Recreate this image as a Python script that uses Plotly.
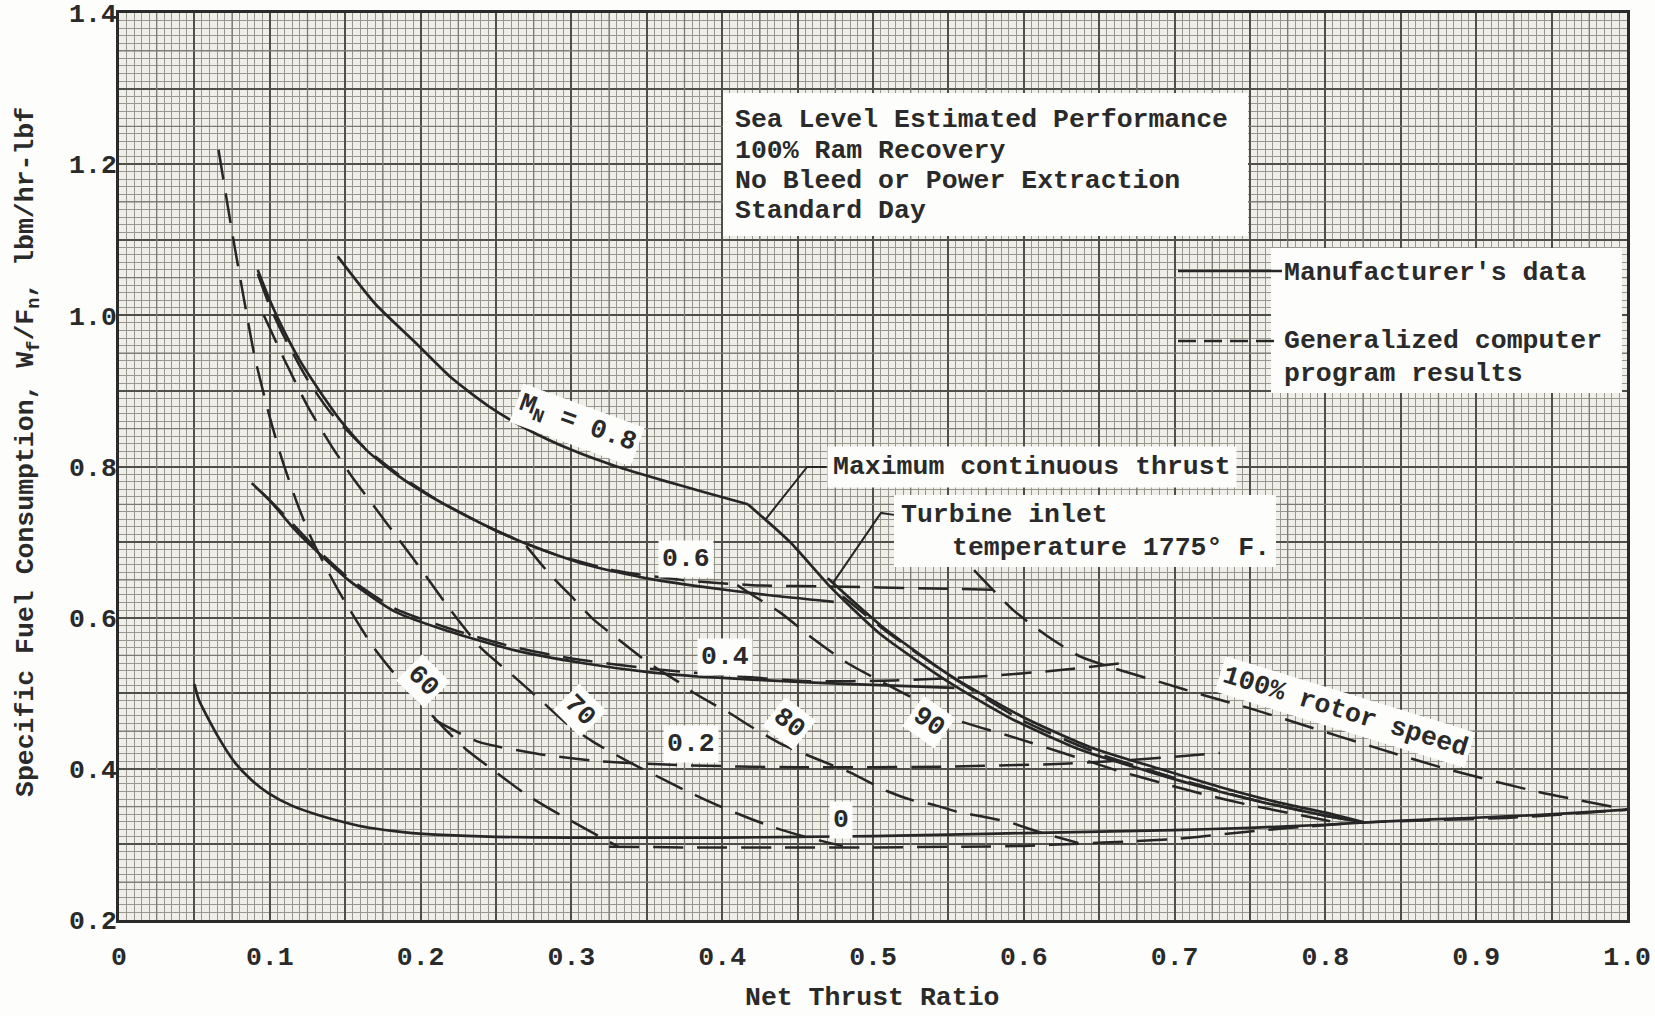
import plotly.graph_objects as go

# ---------------- data ----------------
# Manufacturer's data (solid)
s08_x = [0.145, 0.17, 0.196, 0.22, 0.245, 0.27, 0.30, 0.33, 0.36, 0.39, 0.417]
s08_y = [1.078, 1.015, 0.965, 0.918, 0.88, 0.85, 0.822, 0.80, 0.782, 0.765, 0.750]
s06_x = [0.092, 0.10, 0.108, 0.12, 0.133, 0.148, 0.165, 0.185, 0.207, 0.24, 0.2735, 0.31, 0.35, 0.386, 0.43, 0.474]
s06_y = [1.06, 1.02, 0.985, 0.94, 0.90, 0.858, 0.82, 0.788, 0.76, 0.725, 0.695, 0.67, 0.652, 0.641, 0.63, 0.621]
s04_x = [0.088, 0.10, 0.115, 0.13, 0.152, 0.183, 0.2185, 0.262, 0.307, 0.351, 0.386, 0.42, 0.461, 0.50, 0.554]
s04_y = [0.778, 0.755, 0.72, 0.69, 0.65, 0.608, 0.582, 0.557, 0.54, 0.528, 0.522, 0.518, 0.514, 0.511, 0.507]
s00_x = [0.05, 0.053, 0.065, 0.077, 0.088, 0.099, 0.115, 0.132, 0.15, 0.166, 0.19, 0.21, 0.25, 0.30, 0.35,
         0.40, 0.45, 0.50, 0.55, 0.60, 0.65, 0.70, 0.75, 0.80, 0.825, 0.87, 0.92, 0.96, 1.0]
s00_y = [0.512, 0.491, 0.445, 0.408, 0.385, 0.368, 0.351, 0.339, 0.329, 0.322, 0.316, 0.313, 0.31, 0.309, 0.309,
         0.309, 0.31, 0.311, 0.313, 0.315, 0.317, 0.319, 0.322, 0.326, 0.329, 0.333, 0.337, 0.341, 0.346]
mct_x = [0.417, 0.445, 0.472, 0.505, 0.55, 0.593, 0.638, 0.682, 0.72, 0.76, 0.80, 0.826]
mct_y = [0.750, 0.700, 0.640, 0.578, 0.515, 0.465, 0.425, 0.397, 0.375, 0.355, 0.338, 0.329]
tit_x = [0.470, 0.505, 0.55, 0.60, 0.645, 0.69, 0.73, 0.77, 0.80, 0.826]
tit_y = [0.652, 0.590, 0.525, 0.468, 0.428, 0.400, 0.376, 0.355, 0.342, 0.329]

# Generalized computer program results (dashed)
d06_x = [0.092, 0.10, 0.11, 0.125, 0.14, 0.16, 0.185, 0.21, 0.25, 0.29, 0.33, 0.373, 0.42, 0.48, 0.53, 0.58]
d06_y = [1.055, 1.012, 0.97, 0.915, 0.872, 0.83, 0.79, 0.757, 0.715, 0.683, 0.662, 0.65, 0.643, 0.641, 0.639, 0.637]
d04_x = [0.095, 0.11, 0.13, 0.152, 0.183, 0.22, 0.26, 0.30, 0.35, 0.40, 0.457, 0.514, 0.571, 0.626, 0.666]
d04_y = [0.765, 0.735, 0.693, 0.653, 0.612, 0.585, 0.562, 0.546, 0.533, 0.524, 0.516, 0.517, 0.522, 0.531, 0.54]
d02_x = [0.209, 0.238, 0.28, 0.32, 0.37, 0.45, 0.55, 0.63, 0.68, 0.73]
d02_y = [0.465, 0.436, 0.419, 0.41, 0.405, 0.402, 0.403, 0.407, 0.413, 0.421]
d00_x = [0.325, 0.38, 0.44, 0.50, 0.56, 0.60, 0.636, 0.67, 0.70, 0.73, 0.76, 0.79, 0.825, 0.87, 0.92, 0.96, 1.0]
d00_y = [0.297, 0.296, 0.296, 0.296, 0.297, 0.298, 0.301, 0.304, 0.307, 0.313, 0.319, 0.324, 0.329, 0.332, 0.335, 0.34, 0.346]
dlim_x = [0.48, 0.51, 0.555, 0.60, 0.65, 0.70, 0.75, 0.80, 0.826]
dlim_y = [0.628, 0.580, 0.518, 0.463, 0.420, 0.388, 0.360, 0.338, 0.329]
n60_x = [0.066, 0.075, 0.083, 0.09, 0.10, 0.108, 0.118, 0.128, 0.146, 0.168, 0.185, 0.20, 0.215, 0.23, 0.245,
         0.27, 0.29, 0.31, 0.331]
n60_y = [1.219, 1.11, 1.02, 0.945, 0.865, 0.81, 0.752, 0.703, 0.634, 0.563, 0.52, 0.487, 0.455, 0.426, 0.403,
         0.366, 0.342, 0.32, 0.297]
n70_x = [0.096, 0.11, 0.125, 0.14, 0.155, 0.17, 0.185, 0.20, 0.218, 0.24, 0.262, 0.28, 0.298, 0.315, 0.33,
         0.345, 0.36, 0.375, 0.39, 0.405, 0.42, 0.435, 0.45, 0.465, 0.48]
n70_y = [1.0, 0.94, 0.88, 0.83, 0.785, 0.745, 0.705, 0.665, 0.615, 0.56, 0.522, 0.49, 0.458, 0.435, 0.418,
         0.402, 0.387, 0.372, 0.358, 0.345, 0.333, 0.322, 0.313, 0.305, 0.298]
n80_x = [0.27, 0.285, 0.302, 0.315, 0.33, 0.346, 0.358, 0.371, 0.38, 0.393, 0.404, 0.419, 0.44, 0.464, 0.485,
         0.51, 0.527, 0.541, 0.556, 0.575, 0.591, 0.609, 0.636]
n80_y = [0.695, 0.659, 0.624, 0.597, 0.573, 0.548, 0.531, 0.515, 0.502, 0.487, 0.475, 0.456, 0.432, 0.412, 0.395,
         0.37, 0.358, 0.352, 0.343, 0.336, 0.329, 0.317, 0.302]
n90_x = [0.41, 0.42, 0.439, 0.461, 0.483, 0.505, 0.532, 0.555, 0.593, 0.623, 0.66, 0.69, 0.72, 0.75, 0.78, 0.81]
n90_y = [0.643, 0.63, 0.606, 0.571, 0.540, 0.516, 0.488, 0.465, 0.442, 0.423, 0.399, 0.382, 0.366, 0.352, 0.34, 0.328]
n100_x = [0.567, 0.593, 0.616, 0.638, 0.66, 0.69, 0.72, 0.75, 0.79, 0.83, 0.88, 0.94, 1.0]
n100_y = [0.663, 0.610, 0.575, 0.548, 0.533, 0.515, 0.497, 0.48, 0.455, 0.43, 0.40, 0.37, 0.346]

# curve labels
label_text = ["M<sub>N</sub> = 0.8", "0.6", "0.4", "0.2", "0", "60", "70", "80", "90", "100% rotor speed"]
label_x = [0.304, 0.376, 0.402, 0.379, 0.479, 0.2015, 0.306, 0.444, 0.537, 0.813]
label_y = [0.855, 0.677, 0.548, 0.433, 0.332, 0.516, 0.477, 0.460, 0.462, 0.475]
label_angle = [20, 0, 0, 0, 0, 45, 45, 38, 35, 17]

# leader lines of the limit-line callouts
mct_leader_x = [0.4689, 0.4563, 0.4285]
mct_leader_y = [0.7995, 0.7995, 0.7294]
tit_leader_x = [0.5139, 0.5053, 0.4735]
tit_leader_y = [0.7360, 0.7386, 0.6460]

# axis ticks
x_tickvals = [round(0.05 * i, 2) for i in range(21)]
x_ticktext = ["0", "", "0.1", "", "0.2", "", "0.3", "", "0.4", "", "0.5", "", "0.6", "", "0.7", "", "0.8", "",
              "0.9", "", "1.0"]
y_tickvals = [round(0.2 + 0.1 * i, 1) for i in range(13)]
y_ticktext = ["0.2", "", "0.4", "", "0.6", "", "0.8", "", "1.0", "", "1.2", "", "1.4"]

# ---------------- styling ----------------
FONT = "Liberation Mono, Courier New, monospace"
INK = "#262626"
TXT = "#2a2a2a"
FS = 26.5
DASH = "30px,14px"
PAPER = "#fdfdfb"

L, R, T, B = 119, 1627, 13, 920   # plot area in page pixels


def tfont(size=FS):
    return dict(family=FONT, size=size, color=TXT, weight="bold")


fig = go.Figure()

# medium-weight graph-paper lines
mx, my = [], []
for k in range(20):
    v = 0.025 + 0.05 * k
    mx += [v, v, None]
    my += [0.2, 1.4, None]
for k in range(12):
    v = 0.25 + 0.1 * k
    mx += [0, 1, None]
    my += [v, v, None]
fig.add_trace(go.Scatter(x=mx, y=my, mode="lines", line=dict(color="#7a7a72", width=1.3),
                         hoverinfo="skip", showlegend=False))


def curve(x, y, dashed=False, width=2.7):
    fig.add_trace(go.Scatter(
        x=x, y=y, mode="lines",
        line=dict(color=INK, width=width, dash=DASH if dashed else "solid", shape="spline", smoothing=0.6),
        hoverinfo="skip", showlegend=False))


for xs, ys in [(s08_x, s08_y), (s06_x, s06_y), (s04_x, s04_y), (s00_x, s00_y), (mct_x, mct_y), (tit_x, tit_y)]:
    curve(xs, ys)
for xs, ys in [(d06_x, d06_y), (d04_x, d04_y), (d02_x, d02_y), (d00_x, d00_y), (dlim_x, dlim_y),
               (n60_x, n60_y), (n70_x, n70_y), (n80_x, n80_y), (n90_x, n90_y), (n100_x, n100_y)]:
    curve(xs, ys, dashed=True, width=2.5)

for xs, ys in [(mct_leader_x, mct_leader_y), (tit_leader_x, tit_leader_y)]:
    fig.add_trace(go.Scatter(x=xs, y=ys, mode="lines", line=dict(color=INK, width=2),
                             hoverinfo="skip", showlegend=False))

annotations = []
for t, x, y, a in zip(label_text, label_x, label_y, label_angle):
    annotations.append(dict(x=x, y=y, xref="x", yref="y", text=t, textangle=a, showarrow=False,
                            xanchor="center", yanchor="middle",
                            font=tfont(), bgcolor=PAPER, borderpad=3))


# helpers for paper coordinates from page pixels
def px(X):
    return (X - L) / float(R - L)


def py(Y):
    return (B - Y) / float(B - T)


def text_at(X, Y, t, xanchor="left", angle=0, bg=None, pad=1):
    d = dict(x=px(X), y=py(Y), xref="paper", yref="paper", text=t, showarrow=False,
             xanchor=xanchor, yanchor="middle", textangle=angle, font=tfont(), borderpad=pad)
    if bg:
        d["bgcolor"] = bg
    annotations.append(d)


shapes = []
# info box
shapes.append(dict(type="rect", xref="paper", yref="paper", x0=px(723), x1=px(1248), y0=py(236), y1=py(93),
                   fillcolor=PAPER, line=dict(width=0), layer="above"))
info_lines = ["Sea Level Estimated Performance", "100% Ram Recovery", "No Bleed or Power Extraction", "Standard Day"]
info_y = [120, 151, 181, 211]
for t, Y in zip(info_lines, info_y):
    text_at(733, Y, t)

# legend box
shapes.append(dict(type="rect", xref="paper", yref="paper", x0=px(1271), x1=px(1622), y0=py(393), y1=py(248),
                   fillcolor=PAPER, line=dict(width=0), layer="above"))
shapes.append(dict(type="line", xref="paper", yref="paper", x0=px(1178), x1=px(1282), y0=py(271), y1=py(271),
                   line=dict(color=INK, width=2.6), layer="above"))
shapes.append(dict(type="line", xref="paper", yref="paper", x0=px(1178), x1=px(1282), y0=py(341), y1=py(341),
                   line=dict(color=INK, width=2.4, dash="18px,8px"), layer="above"))
for t, Y in zip(["Manufacturer's data", "Generalized computer", "program results"], [273, 341, 374]):
    text_at(1282, Y, t)

# limit-line callouts
text_at(827, 467, "Maximum continuous thrust", bg=PAPER, pad=5)
shapes.append(dict(type="rect", xref="paper", yref="paper", x0=px(894), x1=px(1276), y0=py(567), y1=py(495),
                   fillcolor=PAPER, line=dict(width=0), layer="above"))
text_at(899, 515, "Turbine inlet")
text_at(950, 548, "temperature 1775° F.")

# axis titles
text_at(872, 998, "Net Thrust Ratio", xanchor="center")
text_at(28, 452, "Specific Fuel Consumption, W<sub>f</sub>/F<sub>n</sub>, lbm/hr-lbf", xanchor="center", angle=-90)

axis_common = dict(showline=True, mirror=True, linecolor="#2a2a2a", linewidth=2.8,
                   showgrid=True, gridcolor="#4f4f4a", gridwidth=1.6, zeroline=False,
                   tickfont=tfont(), tickcolor="rgba(0,0,0,0)",
                   fixedrange=True, automargin=False)

fig.update_layout(
    width=1655, height=1016,
    margin=dict(l=L, r=1655 - R, t=T, b=1016 - B),
    paper_bgcolor=PAPER, plot_bgcolor="#efeee8",
    xaxis=dict(range=[0, 1.0], tickmode="array", tickvals=x_tickvals, ticktext=x_ticktext,
               ticks="outside", ticklen=10,
               minor=dict(tick0=0, dtick=0.005, showgrid=True, gridcolor="#98988f", gridwidth=1, ticks=""),
               **axis_common),
    yaxis=dict(range=[0.2, 1.4], tickmode="array", tickvals=y_tickvals, ticktext=y_ticktext,
               ticks="", ticklabelstandoff=-6,
               minor=dict(tick0=0.2, dtick=0.01, showgrid=True, gridcolor="#98988f", gridwidth=1, ticks=""),
               **axis_common),
    annotations=annotations,
    shapes=shapes,
    showlegend=False,
)

fig.write_html("out.html")
